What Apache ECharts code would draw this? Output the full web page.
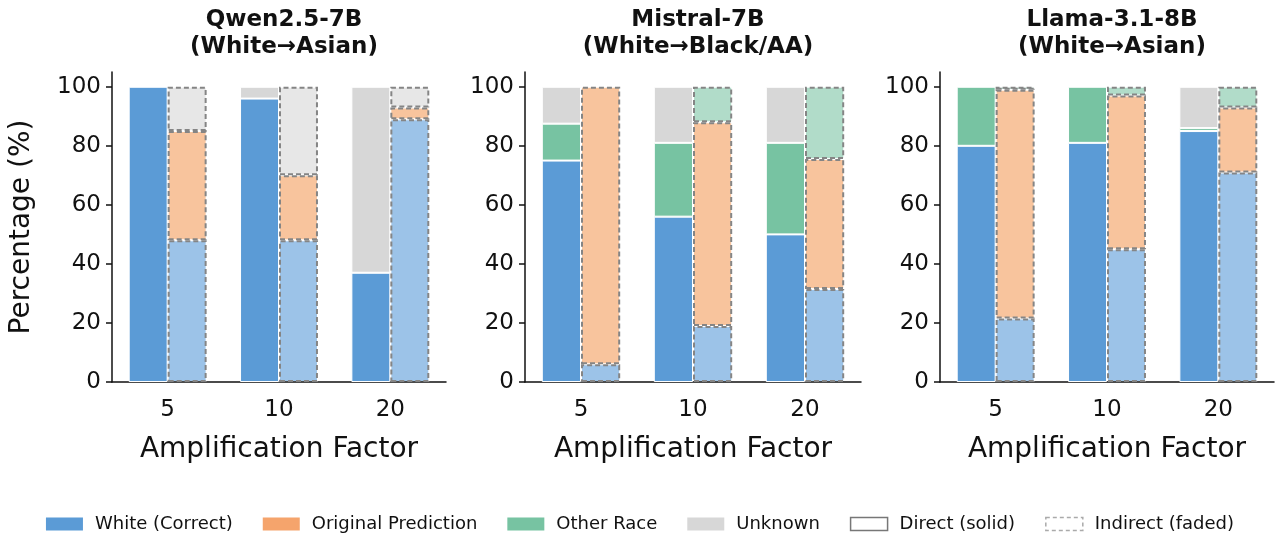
<!DOCTYPE html>
<html>
<head>
<meta charset="utf-8">
<script src="https://cdn.jsdelivr.net/npm/echarts@6/dist/echarts.min.js"></script>
<style>
html, body { margin: 0; padding: 0; background: #fff; }
#chart { width: 1280px; height: 537px; }
</style>
</head>
<body>
<div id="chart"></div>
<script>
var factors = ['5', '10', '20'];
var panelTitles = ['Qwen2.5-7B\n(White→Asian)', 'Mistral-7B\n(White→Black/AA)', 'Llama-3.1-8B\n(White→Asian)'];
var outcomeNames = ['White (Correct)', 'Original Prediction', 'Other Race', 'Unknown'];
var yTicks = [0, 20, 40, 60, 80, 100];

// rows: white, original, other race, unknown (% per amplification factor)
var qwenDirect     = [[100, 96, 37], [0, 0, 0], [0, 0, 0], [0, 4, 63]];
var qwenIndirect   = [[48, 48, 89], [37, 22, 4], [0, 0, 0], [15, 30, 7]];
var mistralDirect   = [[75, 56, 50], [0, 0, 0], [12.5, 25, 31], [12.5, 19, 19]];
var mistralIndirect = [[6, 19, 31.5], [94, 69, 44], [0, 12, 24.5], [0, 0, 0]];
var llamaDirect     = [[80, 81, 85], [0, 0, 0], [20, 19, 1], [0, 0, 14]];
var llamaIndirect   = [[21.5, 45, 71], [77.5, 52, 22], [1, 3, 7], [0, 0, 0]];

var solidColors = ['#5b9bd6', '#f5a46c', '#77c3a2', '#d7d7d7'];
var fadedColors = ['#9cc3e8', '#f8c49d', '#b1dcc9', '#e7e7e7'];

var panels = [
    {direct: qwenDirect, indirect: qwenIndirect},
    {direct: mistralDirect, indirect: mistralIndirect},
    {direct: llamaDirect, indirect: llamaIndirect}
];
var grids = [
    {left: 112, top: 72, width: 334, height: 310},
    {left: 525, top: 72, width: 336, height: 310},
    {left: 940, top: 72, width: 334, height: 310}
];
var font = 'DejaVu Sans';

var noZero = function (arr) {
    return arr.map(function (v) { return v === 0 ? '-' : v; });
};

var series = [];
var xAxes = [];
var yAxes = [];
var titles = [];

panels.forEach(function (p, g) {
    outcomeNames.forEach(function (name, k) {
        series.push({
            name: name, type: 'bar', xAxisIndex: g, yAxisIndex: g,
            stack: 'direct' + g, barWidth: '35%', barGap: '0%',
            itemStyle: {color: solidColors[k], borderColor: '#fff', borderWidth: 1},
            data: noZero(p.direct[k])
        });
    });
    outcomeNames.forEach(function (name, k) {
        series.push({
            name: name, type: 'bar', xAxisIndex: g, yAxisIndex: g,
            stack: 'indirect' + g, barWidth: '35%', barGap: '0%',
            itemStyle: {color: fadedColors[k], borderColor: '#858585', borderWidth: 2, borderType: [5, 3]},
            data: noZero(p.indirect[k])
        });
    });

    xAxes.push({
        type: 'category', gridIndex: g, data: factors,
        name: 'Amplification Factor', nameLocation: 'middle', nameGap: 54,
        nameTextStyle: {fontFamily: font, fontSize: 28, color: '#111'},
        axisLine: {lineStyle: {color: '#111', width: 1.5}},
        axisTick: {alignWithLabel: true, length: 6, lineStyle: {color: '#111', width: 1.5}},
        axisLabel: {fontFamily: font, fontSize: 23, color: '#111', margin: 17},
        splitLine: {show: false}
    });
    yAxes.push({
        type: 'value', gridIndex: g, min: 0, max: 105, interval: 20,
        name: g === 0 ? 'Percentage (%)' : '', nameLocation: 'middle', nameGap: 76,
        nameTextStyle: {fontFamily: font, fontSize: 28, color: '#111'},
        axisLine: {show: true, lineStyle: {color: '#111', width: 1.5}},
        axisTick: {show: true, length: 6, customValues: yTicks, lineStyle: {color: '#111', width: 1.5}},
        axisLabel: {fontFamily: font, fontSize: 23, color: '#111', margin: 11, customValues: yTicks},
        splitLine: {show: false}
    });
    titles.push({
        text: panelTitles[g], left: grids[g].left + grids[g].width / 2, top: 2, textAlign: 'center',
        textStyle: {fontFamily: font, fontSize: 23, fontWeight: 'bold', color: '#111', lineHeight: 27}
    });
});

// legend-only entries for the bar style
series.push({name: 'Direct (solid)', type: 'bar', xAxisIndex: 0, yAxisIndex: 0, stack: 'direct0', data: [],
    itemStyle: {color: '#fff', borderColor: '#777', borderWidth: 1.5}});
series.push({name: 'Indirect (faded)', type: 'bar', xAxisIndex: 0, yAxisIndex: 0, stack: 'indirect0', data: [],
    itemStyle: {color: '#fff', borderColor: '#aaa', borderWidth: 1.5, borderType: [4, 3]}});

var legendData = outcomeNames.map(function (name, k) {
    return {name: name, itemStyle: {color: solidColors[k], borderWidth: 0}};
});
legendData.push({name: 'Direct (solid)', itemStyle: {color: '#fff', borderColor: '#777', borderWidth: 1.5}});
legendData.push({name: 'Indirect (faded)', itemStyle: {color: '#fff', borderColor: '#aaa', borderWidth: 1.5, borderType: [4, 3]}});

var chart = echarts.init(document.getElementById('chart'));
chart.setOption({
    animation: false,
    backgroundColor: '#fff',
    title: titles,
    grid: grids,
    xAxis: xAxes,
    yAxis: yAxes,
    legend: {
        data: legendData, left: 'center', top: 510, icon: 'rect',
        itemWidth: 37, itemHeight: 13, itemGap: 30,
        textStyle: {fontFamily: font, fontSize: 18, color: '#111', padding: [0, 0, 0, 7]}
    },
    series: series
});
</script>
</body>
</html>
